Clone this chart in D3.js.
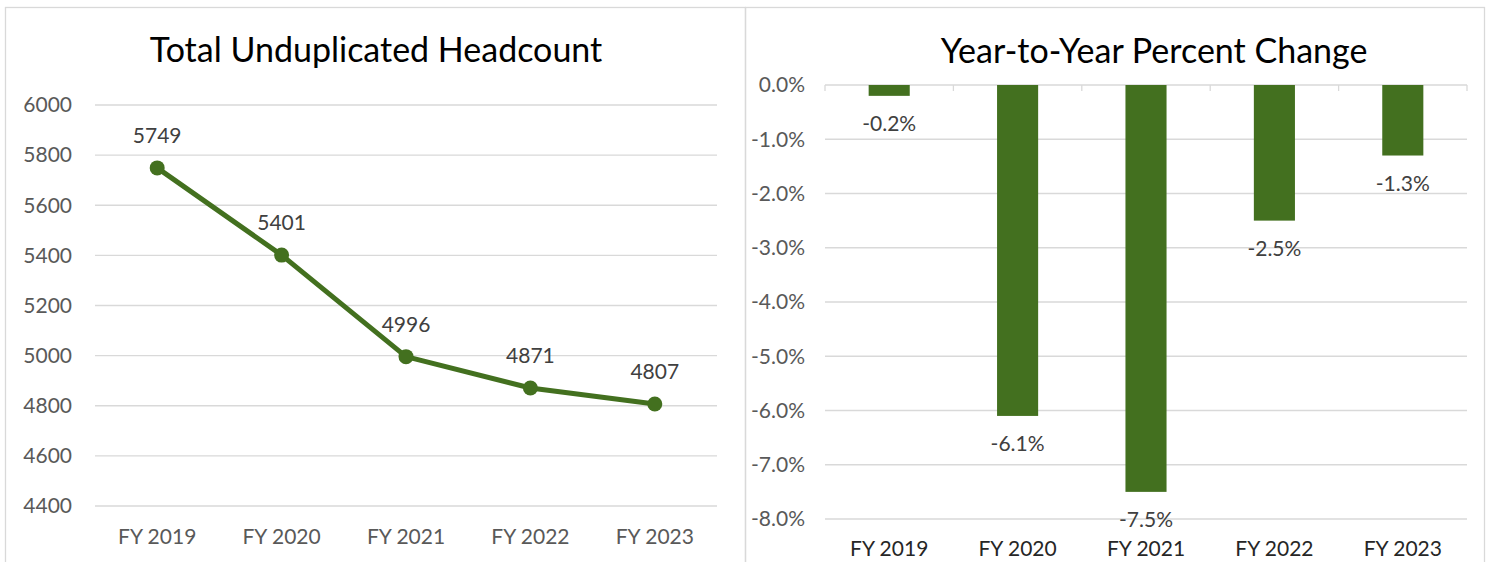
<!DOCTYPE html>
<html>
<head>
<meta charset="utf-8">
<script src="https://cdn.jsdelivr.net/npm/d3@7"></script>
<style>
  html, body { margin: 0; padding: 0; background: #ffffff; }
  svg { display: block; font-family: Lato, "Open Sans", sans-serif; }
</style>
</head>
<body>
<div id="chart"></div>
<script>
// data
const years = ["FY 2019", "FY 2020", "FY 2021", "FY 2022", "FY 2023"];
const headcount = [5749, 5401, 4996, 4871, 4807];
const pctChange = [-0.2, -6.1, -7.5, -2.5, -1.3];
const headcountTicks = [4400, 4600, 4800, 5000, 5200, 5400, 5600, 5800, 6000];
const pctTicks = [0, -1, -2, -3, -4, -5, -6, -7, -8];

// config
const width = 1490;
const height = 562;
const green = "#43701f";
const grid = "#d9d9d9";
const tickGray = "#595959";
const labelSize = "21px";
const titleSize = "34px";

// excel-style percent with a plain hyphen
const pct = v => d3.format(".1f")(v).replace("\u2212", "-") + "%";

const svg = d3.select("#chart")
  .append("svg")
  .attr("width", width)
  .attr("height", height);

// panel borders
svg.append("rect")
  .attr("x", 5.5).attr("y", 7.5)
  .attr("width", 740).attr("height", 570)
  .attr("fill", "none").attr("stroke", grid).attr("stroke-width", 1.3);

svg.append("rect")
  .attr("x", 745.5).attr("y", 7.5)
  .attr("width", 739).attr("height", 570)
  .attr("fill", "none").attr("stroke", grid).attr("stroke-width", 1.3);

// ---------- left: line chart ----------

const lx = d3.scaleBand()
  .domain(years)
  .range([95, 717]);

const ly = d3.scaleLinear()
  .domain([4400, 6000])
  .range([506, 105]);

svg.append("text")
  .attr("x", 376).attr("y", 62)
  .attr("text-anchor", "middle")
  .style("font-size", titleSize)
  .style("fill", "#000000")
  .text("Total Unduplicated Headcount");

svg.append("g")
  .selectAll("line")
  .data(headcountTicks)
  .join("line")
  .attr("x1", 95).attr("x2", 717)
  .attr("y1", d => ly(d)).attr("y2", d => ly(d))
  .attr("stroke", grid).attr("stroke-width", 1.3);

svg.append("g")
  .selectAll("text")
  .data(headcountTicks)
  .join("text")
  .attr("x", 72)
  .attr("y", d => ly(d))
  .attr("dy", "0.35em")
  .attr("text-anchor", "end")
  .style("font-size", labelSize)
  .style("fill", tickGray)
  .text(d => d);

svg.append("g")
  .selectAll("text")
  .data(years)
  .join("text")
  .attr("x", d => lx(d) + lx.bandwidth() / 2)
  .attr("y", 537)
  .attr("dy", "0.35em")
  .attr("text-anchor", "middle")
  .style("font-size", labelSize)
  .style("fill", tickGray)
  .text(d => d);

const lineData = years.map((y, i) => ({ year: y, value: headcount[i] }));

const line = d3.line()
  .x(d => lx(d.year) + lx.bandwidth() / 2)
  .y(d => ly(d.value));

svg.append("path")
  .attr("d", line(lineData))
  .attr("fill", "none")
  .attr("stroke", green)
  .attr("stroke-width", 5)
  .attr("stroke-linejoin", "round");

svg.selectAll("circle.point")
  .data(lineData)
  .join("circle")
  .attr("class", "point")
  .attr("cx", d => lx(d.year) + lx.bandwidth() / 2)
  .attr("cy", d => ly(d.value))
  .attr("r", 7.5)
  .attr("fill", green);

svg.append("g")
  .selectAll("text")
  .data(lineData)
  .join("text")
  .attr("x", d => lx(d.year) + lx.bandwidth() / 2)
  .attr("y", d => ly(d.value) - 32)
  .attr("dy", "0.35em")
  .attr("text-anchor", "middle")
  .style("font-size", labelSize)
  .style("fill", "#404040")
  .text(d => d.value);

// ---------- right: bar chart ----------

const rx = d3.scaleBand()
  .domain(years)
  .range([825, 1467])
  .paddingInner(0.68)
  .paddingOuter(0.34);

const rxOuter = d3.scaleBand()
  .domain(years)
  .range([825, 1467]);

const ry = d3.scaleLinear()
  .domain([-8, 0])
  .range([519, 85]);

svg.append("text")
  .attr("x", 1154).attr("y", 63)
  .attr("text-anchor", "middle")
  .style("font-size", titleSize)
  .style("fill", "#000000")
  .text("Year-to-Year Percent Change");

svg.append("g")
  .selectAll("line")
  .data(pctTicks)
  .join("line")
  .attr("x1", 825).attr("x2", 1467)
  .attr("y1", d => ry(d)).attr("y2", d => ry(d))
  .attr("stroke", grid).attr("stroke-width", 1.3);

// category tick marks on the zero axis
const boundaries = years.map(d => rxOuter(d)).concat([rxOuter.range()[1]]);
svg.append("g")
  .selectAll("line")
  .data(boundaries)
  .join("line")
  .attr("x1", d => d).attr("x2", d => d)
  .attr("y1", ry(0)).attr("y2", ry(0) + 6)
  .attr("stroke", grid).attr("stroke-width", 1.3);

svg.append("g")
  .selectAll("text")
  .data(pctTicks)
  .join("text")
  .attr("x", 805)
  .attr("y", d => ry(d))
  .attr("dy", "0.35em")
  .attr("text-anchor", "end")
  .style("font-size", labelSize)
  .style("fill", tickGray)
  .text(d => pct(d));

svg.append("g")
  .selectAll("text")
  .data(years)
  .join("text")
  .attr("x", d => rxOuter(d) + rxOuter.bandwidth() / 2)
  .attr("y", 549)
  .attr("dy", "0.35em")
  .attr("text-anchor", "middle")
  .style("font-size", labelSize)
  .style("fill", "#262626")
  .text(d => d);

const barData = years.map((y, i) => ({ year: y, value: pctChange[i] }));

svg.selectAll("rect.bar")
  .data(barData)
  .join("rect")
  .attr("class", "bar")
  .attr("x", d => rx(d.year))
  .attr("y", ry(0))
  .attr("width", rx.bandwidth())
  .attr("height", d => ry(d.value) - ry(0))
  .attr("fill", green);

svg.append("g")
  .selectAll("text")
  .data(barData)
  .join("text")
  .attr("x", d => rx(d.year) + rx.bandwidth() / 2)
  .attr("y", d => ry(d.value) + 28)
  .attr("dy", "0.35em")
  .attr("text-anchor", "middle")
  .style("font-size", labelSize)
  .style("fill", "#404040")
  .text(d => pct(d.value));
</script>
</body>
</html>
